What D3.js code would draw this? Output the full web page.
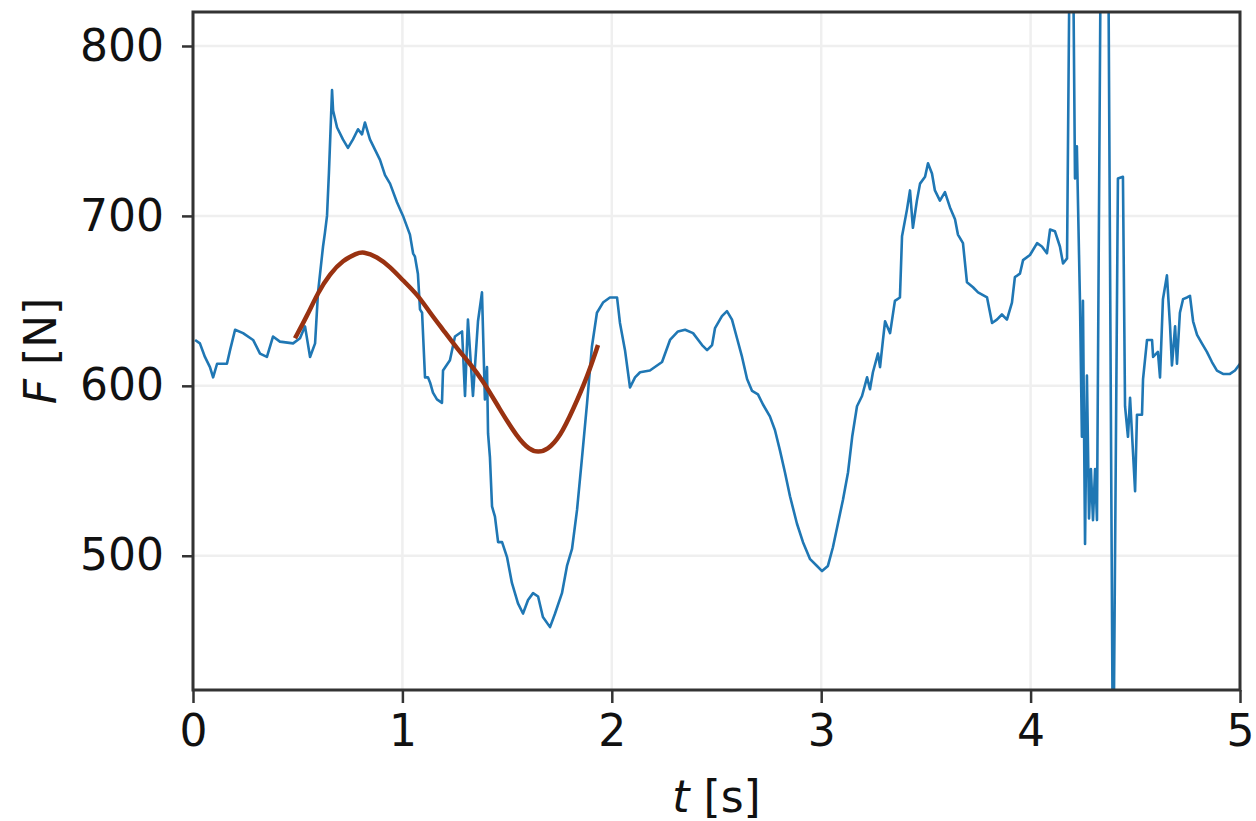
<!DOCTYPE html>
<html>
<head>
<meta charset="utf-8">
<script src="https://cdn.jsdelivr.net/npm/d3@7"></script>
<style>
  html, body { margin: 0; padding: 0; background: #ffffff; }
  svg { display: block; }
  text { font-family: "DejaVu Sans", sans-serif; fill: #111; }
</style>
</head>
<body>
<svg id="chart" width="1256" height="821"></svg>
<script>
// ---- data ----
const measuredT = [0.010,0.033,0.057,0.081,0.096,0.115,0.162,0.177,0.201,0.239,0.287,0.320,0.353,0.382,0.415,0.478,0.511,0.535,0.559,0.583,0.597,0.621,0.630,0.640,0.649,0.664,0.669,0.688,0.716,0.740,0.764,0.788,0.807,0.821,0.845,0.869,0.893,0.917,0.941,0.974,1.003,1.036,1.051,1.060,1.074,1.084,1.094,1.108,1.122,1.132,1.146,1.165,1.189,1.194,1.227,1.251,1.285,1.299,1.313,1.337,1.361,1.380,1.394,1.404,1.409,1.418,1.428,1.442,1.457,1.476,1.500,1.523,1.552,1.576,1.600,1.624,1.648,1.671,1.705,1.729,1.762,1.786,1.810,1.834,1.858,1.882,1.905,1.929,1.958,1.991,2.025,2.039,2.063,2.087,2.111,2.135,2.182,2.240,2.278,2.316,2.350,2.388,2.431,2.455,2.479,2.493,2.526,2.550,2.574,2.598,2.622,2.646,2.670,2.698,2.722,2.755,2.779,2.803,2.827,2.851,2.884,2.913,2.947,2.980,3.004,3.032,3.056,3.080,3.104,3.128,3.148,3.171,3.195,3.219,3.233,3.247,3.271,3.281,3.295,3.305,3.329,3.352,3.376,3.386,3.410,3.424,3.438,3.457,3.472,3.496,3.510,3.529,3.543,3.567,3.591,3.615,3.639,3.653,3.677,3.696,3.725,3.749,3.792,3.816,3.839,3.863,3.887,3.911,3.925,3.949,3.964,3.997,4.031,4.054,4.078,4.093,4.116,4.140,4.155,4.174,4.188,4.202,4.212,4.221,4.236,4.245,4.250,4.260,4.269,4.279,4.288,4.298,4.308,4.317,4.336,4.370,4.394,4.417,4.441,4.451,4.465,4.475,4.499,4.508,4.532,4.537,4.556,4.580,4.585,4.608,4.618,4.632,4.651,4.666,4.675,4.690,4.699,4.713,4.728,4.747,4.761,4.776,4.795,4.818,4.842,4.866,4.890,4.919,4.952,4.976,5.000];
const measuredF = [627,625,617,611,605,613,613,621,633,631,627,619,617,629,626,625,628,635,617,625,655,682,690,700,725,774,762,752,745,740,745,751,748,755,745,739,733,724,719,708,700,689,678,676,666,645,643,605,605,602,596,592,590,609,615,629,632,594,639,594,638,655,592,611,572,558,529,523,508,508,499,484,472,466,474,478,476,464,458,466,478,494,504,527,558,590,623,643,649,652,652,637,621,599,605,608,609,614,627,632,633,631,624,621,624,634,641,644,639,628,617,604,597,595,589,582,574,562,549,535,519,508,498,494,491,494,505,519,533,549,570,588,594,605,598,608,619,611,627,638,631,650,652,688,704,715,693,709,719,723,731,725,715,709,714,705,698,689,684,661,658,655,652,637,639,642,639,649,664,666,674,677,684,682,678,692,691,682,672,675,880,870,722,741,648,570,650,507,606,522,551,521,551,521,880,880,350,722,723,588,570,593,538,583,583,604,627,627,617,620,605,651,665,635,612,635,613,643,651,652,653,638,630,625,620,614,609,607,607,609,613];

const fitT = [0.487,0.544,0.597,0.654,0.716,0.783,0.812,0.879,0.941,1.003,1.070,1.132,1.194,1.261,1.323,1.385,1.466,1.547,1.609,1.648,1.691,1.753,1.815,1.882,1.934];
const fitF = [628,641,655,666,674,678,679,676,670,662,654,643,633,622,613,603,586,570,562,561,562,570,586,605,624];

const xTicks = [0, 1, 2, 3, 4, 5];
const yTicks = [500, 600, 700, 800];
const xDomain = [0, 5];
const yDomain = [421, 820];

// ---- layout ----
const svg = d3.select("#chart");
const margin = { left: 193, right: 16, top: 12, bottom: 131 };
const W = 1256, H = 821;
const x = d3.scaleLinear().domain(xDomain).range([margin.left, W - margin.right]);
const y = d3.scaleLinear().domain(yDomain).range([H - margin.bottom, margin.top]);

svg.append("defs").append("clipPath").attr("id", "clip")
  .append("rect")
  .attr("x", margin.left).attr("y", margin.top)
  .attr("width", W - margin.left - margin.right)
  .attr("height", H - margin.top - margin.bottom);

// grid
const grid = svg.append("g");
grid.selectAll(".gx").data(xTicks).join("line")
  .attr("x1", d => x(d)).attr("x2", d => x(d))
  .attr("y1", margin.top).attr("y2", H - margin.bottom)
  .attr("stroke", "#efefef").attr("stroke-width", 2.5);
grid.selectAll(".gy").data(yTicks).join("line")
  .attr("x1", margin.left).attr("x2", W - margin.right)
  .attr("y1", d => y(d)).attr("y2", d => y(d))
  .attr("stroke", "#efefef").attr("stroke-width", 2.5);

// data lines
const plot = svg.append("g").attr("clip-path", "url(#clip)");
const measured = measuredT.map((t, i) => [t, measuredF[i]]);
const fit = fitT.map((t, i) => [t, fitF[i]]);

plot.append("path").datum(measured)
  .attr("fill", "none").attr("stroke", "#1f77b4").attr("stroke-width", 2.6)
  .attr("stroke-linejoin", "round")
  .attr("d", d3.line().x(d => x(d[0])).y(d => y(d[1])));

plot.append("path").datum(fit)
  .attr("fill", "none").attr("stroke", "#993211").attr("stroke-width", 4.5)
  .attr("stroke-linecap", "butt")
  .attr("d", d3.line().curve(d3.curveBasis).x(d => x(d[0])).y(d => y(d[1])));

// axes
const xAxis = svg.append("g")
  .attr("transform", `translate(0,${H - margin.bottom})`)
  .call(d3.axisBottom(x).tickValues(xTicks).tickFormat(d3.format("d")).tickSize(13).tickPadding(12));
const yAxis = svg.append("g")
  .attr("transform", `translate(${margin.left},0)`)
  .call(d3.axisLeft(y).tickValues(yTicks).tickFormat(d3.format("d")).tickSize(11).tickPadding(18));

[xAxis, yAxis].forEach(a => {
  a.select(".domain").remove();
  a.selectAll(".tick line").attr("stroke", "#333").attr("stroke-width", 2.5);
  a.selectAll(".tick text").attr("font-size", 44).attr("font-family", "DejaVu Sans").attr("fill", "#111");
});

// frame
svg.append("rect")
  .attr("x", margin.left).attr("y", margin.top)
  .attr("width", W - margin.left - margin.right)
  .attr("height", H - margin.top - margin.bottom)
  .attr("fill", "none").attr("stroke", "#333").attr("stroke-width", 3);

// axis labels
const xl = svg.append("text")
  .attr("x", (margin.left + W - margin.right) / 2).attr("y", 812)
  .attr("text-anchor", "middle").attr("font-size", 44);
xl.append("tspan").attr("font-style", "italic").text("t");
xl.append("tspan").text(" [s]");

const yl = svg.append("text")
  .attr("transform", `translate(56,${(margin.top + H - margin.bottom) / 2}) rotate(-90)`)
  .attr("text-anchor", "middle").attr("font-size", 44);
yl.append("tspan").attr("font-style", "italic").text("F");
yl.append("tspan").text(" [N]");
</script>
</body>
</html>
